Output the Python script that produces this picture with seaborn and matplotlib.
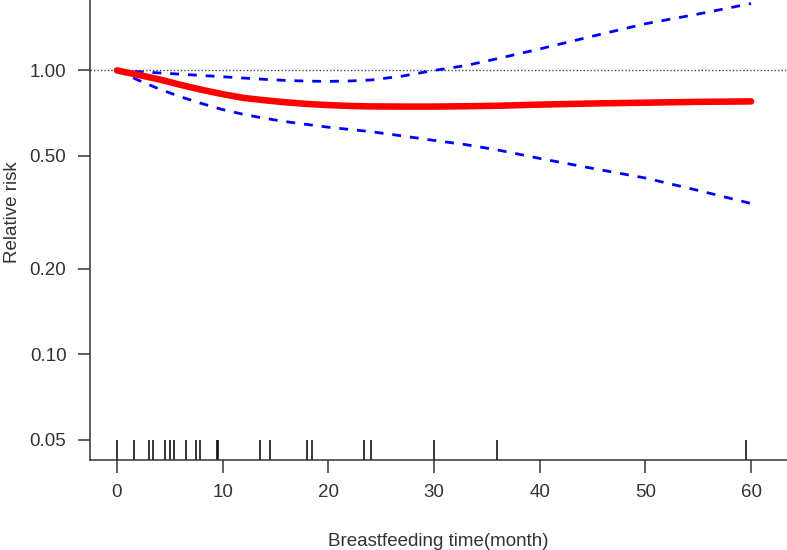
import numpy as np
import pandas as pd
import matplotlib
matplotlib.use('Agg')
import matplotlib.pyplot as plt
import seaborn as sns

# estimated curve values (months, relative risk)
months = [0, 2, 4, 6, 8, 10, 12, 14, 16, 18, 20, 22, 24, 27, 30, 33, 36, 40, 45, 50, 55, 60]
rr = [1.0, 0.965, 0.93, 0.89, 0.855, 0.825, 0.80, 0.785, 0.772, 0.762, 0.755, 0.75, 0.747,
      0.746, 0.746, 0.748, 0.751, 0.758, 0.765, 0.77, 0.775, 0.778]
upper = [1.0, 0.99, 0.98, 0.97, 0.96, 0.95, 0.94, 0.93, 0.922, 0.917, 0.915, 0.918, 0.925,
         0.955, 1.0, 1.04, 1.10, 1.19, 1.32, 1.46, 1.58, 1.72]
lower = [1.0, 0.925, 0.86, 0.808, 0.765, 0.728, 0.7, 0.678, 0.66, 0.645, 0.631, 0.62, 0.609,
         0.588, 0.567, 0.548, 0.525, 0.49, 0.452, 0.418, 0.378, 0.34]

# observed breastfeeding times (rug)
rug_times = [0, 1.6, 3.0, 3.4, 4.5, 5.0, 5.4, 6.5, 7.5, 7.9, 9.5, 9.6, 13.5, 14.5,
             18.0, 18.5, 23.4, 24.0, 30.0, 36.0, 59.5]

y_ticks = [0.05, 0.10, 0.20, 0.50, 1.00]
x_ticks = [0, 10, 20, 30, 40, 50, 60]

sns.set_style('ticks')
plt.rcParams['font.family'] = ['Liberation Sans', 'DejaVu Sans']

fig = plt.figure(figsize=(7.87, 5.5), dpi=100)
ax = fig.add_axes([90 / 787, 1 - 460 / 550, 1 - 90 / 787, 460 / 550])

df = pd.DataFrame({'month': months, 'rr': rr, 'upper': upper, 'lower': lower})

ax.axhline(1.0, color='#444444', linestyle=(0, (1, 1.5)), linewidth=1.0, zorder=1)
sns.lineplot(data=df, x='month', y='upper', ax=ax, color='#0000FF', linewidth=2.0,
             linestyle=(0, (3.2, 3.2)), zorder=2)
sns.lineplot(data=df, x='month', y='lower', ax=ax, color='#0000FF', linewidth=2.0,
             linestyle=(0, (3.2, 3.2)), zorder=2)
sns.lineplot(data=df, x='month', y='rr', ax=ax, color='#FF0000', linewidth=4.7,
             solid_capstyle='round', zorder=3)
sns.rugplot(x=rug_times, ax=ax, height=0.043, color='black', linewidth=1.1)

ax.set_yscale('log')
ax.set_xlim(-2.55, 63.4)
ax.set_ylim(0.0425, 1.77)
ax.set_yticks(y_ticks)
ax.set_yticklabels([f'{v:.2f}' for v in y_ticks])
ax.minorticks_off()
ax.set_xticks(x_ticks)
ax.tick_params(axis='both', labelsize=13.5, length=9, width=1.1, colors='#333333',
               pad=8)
ax.set_xlabel('Breastfeeding time(month)', fontsize=13.5, color='#333333', labelpad=23)
ax.set_ylabel('Relative risk', fontsize=13.5, color='#333333', labelpad=6, y=0.539)

sns.despine(ax=ax)
for s in ['left', 'bottom']:
    ax.spines[s].set_color('#333333')
    ax.spines[s].set_linewidth(1.1)

fig.savefig('out.png', dpi=100)
